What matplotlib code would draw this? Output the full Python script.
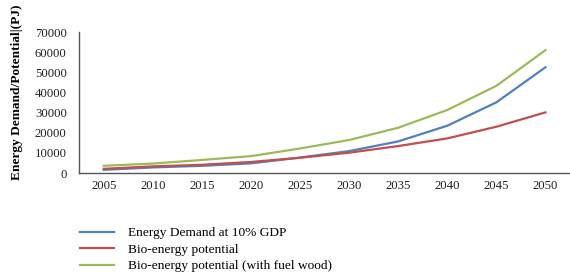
import matplotlib
matplotlib.use("Agg")
import matplotlib.pyplot as plt

# ── Data ──────────────────────────────────────────────────────────────────────
YEARS = ["2005", "2010", "2015", "2020", "2025", "2030", "2035", "2040", "2045", "2050"]
DEMAND = [1600, 2800, 3600, 4800, 7700, 10900, 15700, 23500, 35100, 52500]
BIO = [2100, 3300, 4100, 5500, 7600, 10100, 13400, 17200, 23000, 30100]
BIO_WOOD = [3600, 4700, 6500, 8400, 12200, 16400, 22500, 31300, 43300, 61000]

LABELS = ["Energy Demand at 10% GDP", "Bio-energy potential",
          "Bio-energy potential (with fuel wood)"]
COLORS = ["#4F81BD", "#C0504D", "#9BBB59"]

# ── Plot ──────────────────────────────────────────────────────────────────────
plt.rcParams["font.family"] = ["Liberation Serif", "DejaVu Serif"]
plt.rcParams["font.size"] = 9

fig = plt.figure(figsize=(5.7, 2.76), dpi=100)
ax = fig.add_axes([0.139, 0.373, 0.861, 0.511])

x = range(len(YEARS))
for series, label, color in zip([DEMAND, BIO, BIO_WOOD], LABELS, COLORS):
    ax.plot(x, series, color=color, linewidth=1.6, label=label)

ax.set_xlim(-0.5, len(YEARS) - 0.5)
ax.set_ylim(0, 70000)
ax.set_yticks(range(0, 70001, 10000))
ax.set_xticks(list(x))
ax.set_xticklabels(YEARS)
ax.tick_params(length=0, colors="#222222", labelsize=9.2)
ax.tick_params(axis="x", pad=5)
ax.tick_params(axis="y", pad=9)

for side in ("top", "right"):
    ax.spines[side].set_visible(False)
for side in ("left", "bottom"):
    ax.spines[side].set_color("#555555")
    ax.spines[side].set_linewidth(1.0)

ax.set_ylabel("Energy Demand/Potential|(PJ)", fontweight="bold", fontsize=9.6)
ax.yaxis.set_label_coords(-0.115, 0.57)

handles, labels = ax.get_legend_handles_labels()
fig.legend(handles, labels, loc="upper left", bbox_to_anchor=(0.14, 0.178),
           frameon=False, handlelength=2.6, handletextpad=1.05, labelspacing=0.32,
           borderaxespad=0, borderpad=0, fontsize=9.6)

plt.savefig("out.png", dpi=100)
